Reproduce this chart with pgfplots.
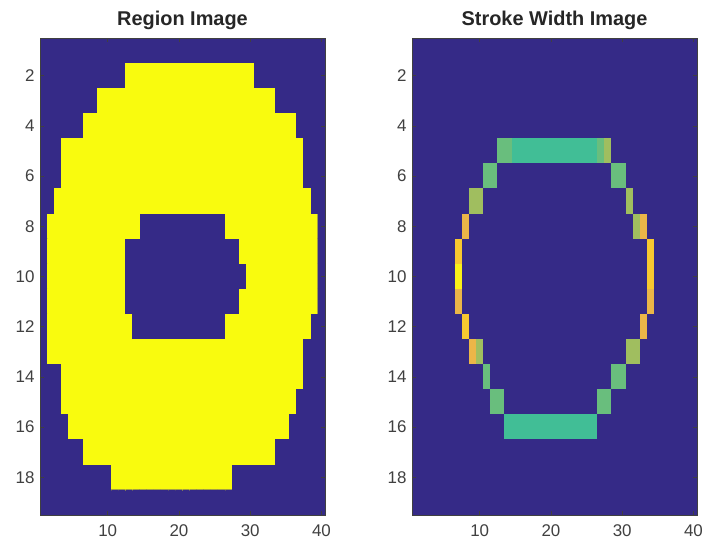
\documentclass[border=0pt]{standalone}
\usepackage{fontspec}
\setmainfont{Liberation Sans}
\usepackage{pgfplots}
\pgfplotsset{compat=1.18}
\definecolor{tickgray}{RGB}{64,64,64}
\definecolor{bgblue}{RGB}{53,42,135}
\pgfplotsset{
  mat/.style={
    scale only axis, width=285bp, height=477bp,
    xmin=0.5, xmax=40.5, ymin=0.5, ymax=19.5, y dir=reverse,
    enlargelimits=false, axis on top,
    axis background/.style={fill=bgblue},
    xtick={10,20,30,40}, ytick={2,4,...,18},
    tick align=inside, major tick length=4bp,
    tick style={color=tickgray, line width=0.5bp},
    axis line style={color=tickgray, line width=0.5bp},
    ticklabel style={font=\fontsize{17}{17}\selectfont, text=tickgray},
    /pgf/number format/assume math mode=true,
    title style={font=\fontsize{20}{20}\selectfont\bfseries, at={(0.5,1)}, anchor=south, yshift=-1bp, text=black!85},
    xticklabel style={yshift=-6bp},
    yticklabel style={xshift=-2bp},
  },
  img/.style={matrix plot*, mesh/cols=40, mesh/rows=19, point meta=explicit},
}
\begin{document}
\begin{tikzpicture}
\path[use as bounding box] (0,0) rectangle (712bp,543bp);
\begin{axis}[mat, at={(40bp,28bp)}, anchor=south west, title={Region Image},
  colormap={regionmap}{rgb255=(53,42,135) rgb255=(249,251,14)},
  point meta min=0, point meta max=1]
\addplot[img] table[header=false, row sep=\\, x expr={mod(\coordindex+0.5,40)+0.5}, y expr={floor((\coordindex+0.5)/40)+1}, meta index=0] {
0\\0\\0\\0\\0\\0\\0\\0\\0\\0\\ 0\\0\\0\\0\\0\\0\\0\\0\\0\\0\\ 0\\0\\0\\0\\0\\0\\0\\0\\0\\0\\ 0\\0\\0\\0\\0\\0\\0\\0\\0\\0\\
0\\0\\0\\0\\0\\0\\0\\0\\0\\0\\ 0\\0\\1\\1\\1\\1\\1\\1\\1\\1\\ 1\\1\\1\\1\\1\\1\\1\\1\\1\\1\\ 0\\0\\0\\0\\0\\0\\0\\0\\0\\0\\
0\\0\\0\\0\\0\\0\\0\\0\\1\\1\\ 1\\1\\1\\1\\1\\1\\1\\1\\1\\1\\ 1\\1\\1\\1\\1\\1\\1\\1\\1\\1\\ 1\\1\\1\\0\\0\\0\\0\\0\\0\\0\\
0\\0\\0\\0\\0\\0\\1\\1\\1\\1\\ 1\\1\\1\\1\\1\\1\\1\\1\\1\\1\\ 1\\1\\1\\1\\1\\1\\1\\1\\1\\1\\ 1\\1\\1\\1\\1\\1\\0\\0\\0\\0\\
0\\0\\0\\1\\1\\1\\1\\1\\1\\1\\ 1\\1\\1\\1\\1\\1\\1\\1\\1\\1\\ 1\\1\\1\\1\\1\\1\\1\\1\\1\\1\\ 1\\1\\1\\1\\1\\1\\1\\0\\0\\0\\
0\\0\\0\\1\\1\\1\\1\\1\\1\\1\\ 1\\1\\1\\1\\1\\1\\1\\1\\1\\1\\ 1\\1\\1\\1\\1\\1\\1\\1\\1\\1\\ 1\\1\\1\\1\\1\\1\\1\\0\\0\\0\\
0\\0\\1\\1\\1\\1\\1\\1\\1\\1\\ 1\\1\\1\\1\\1\\1\\1\\1\\1\\1\\ 1\\1\\1\\1\\1\\1\\1\\1\\1\\1\\ 1\\1\\1\\1\\1\\1\\1\\1\\0\\0\\
0\\1\\1\\1\\1\\1\\1\\1\\1\\1\\ 1\\1\\1\\1\\0\\0\\0\\0\\0\\0\\ 0\\0\\0\\0\\0\\0\\1\\1\\1\\1\\ 1\\1\\1\\1\\1\\1\\1\\1\\1\\0\\
0\\1\\1\\1\\1\\1\\1\\1\\1\\1\\ 1\\1\\0\\0\\0\\0\\0\\0\\0\\0\\ 0\\0\\0\\0\\0\\0\\0\\0\\1\\1\\ 1\\1\\1\\1\\1\\1\\1\\1\\1\\0\\
0\\1\\1\\1\\1\\1\\1\\1\\1\\1\\ 1\\1\\0\\0\\0\\0\\0\\0\\0\\0\\ 0\\0\\0\\0\\0\\0\\0\\0\\0\\1\\ 1\\1\\1\\1\\1\\1\\1\\1\\1\\0\\
0\\1\\1\\1\\1\\1\\1\\1\\1\\1\\ 1\\1\\0\\0\\0\\0\\0\\0\\0\\0\\ 0\\0\\0\\0\\0\\0\\0\\0\\1\\1\\ 1\\1\\1\\1\\1\\1\\1\\1\\1\\0\\
0\\1\\1\\1\\1\\1\\1\\1\\1\\1\\ 1\\1\\1\\0\\0\\0\\0\\0\\0\\0\\ 0\\0\\0\\0\\0\\0\\1\\1\\1\\1\\ 1\\1\\1\\1\\1\\1\\1\\1\\0\\0\\
0\\1\\1\\1\\1\\1\\1\\1\\1\\1\\ 1\\1\\1\\1\\1\\1\\1\\1\\1\\1\\ 1\\1\\1\\1\\1\\1\\1\\1\\1\\1\\ 1\\1\\1\\1\\1\\1\\1\\0\\0\\0\\
0\\0\\0\\1\\1\\1\\1\\1\\1\\1\\ 1\\1\\1\\1\\1\\1\\1\\1\\1\\1\\ 1\\1\\1\\1\\1\\1\\1\\1\\1\\1\\ 1\\1\\1\\1\\1\\1\\1\\0\\0\\0\\
0\\0\\0\\1\\1\\1\\1\\1\\1\\1\\ 1\\1\\1\\1\\1\\1\\1\\1\\1\\1\\ 1\\1\\1\\1\\1\\1\\1\\1\\1\\1\\ 1\\1\\1\\1\\1\\1\\0\\0\\0\\0\\
0\\0\\0\\0\\1\\1\\1\\1\\1\\1\\ 1\\1\\1\\1\\1\\1\\1\\1\\1\\1\\ 1\\1\\1\\1\\1\\1\\1\\1\\1\\1\\ 1\\1\\1\\1\\1\\0\\0\\0\\0\\0\\
0\\0\\0\\0\\0\\0\\1\\1\\1\\1\\ 1\\1\\1\\1\\1\\1\\1\\1\\1\\1\\ 1\\1\\1\\1\\1\\1\\1\\1\\1\\1\\ 1\\1\\1\\0\\0\\0\\0\\0\\0\\0\\
0\\0\\0\\0\\0\\0\\0\\0\\0\\0\\ 1\\1\\1\\1\\1\\1\\1\\1\\1\\1\\ 1\\1\\1\\1\\1\\1\\1\\0\\0\\0\\ 0\\0\\0\\0\\0\\0\\0\\0\\0\\0\\
0\\0\\0\\0\\0\\0\\0\\0\\0\\0\\ 0\\0\\0\\0\\0\\0\\0\\0\\0\\0\\ 0\\0\\0\\0\\0\\0\\0\\0\\0\\0\\ 0\\0\\0\\0\\0\\0\\0\\0\\0\\0\\
};
\end{axis}
\begin{axis}[mat, at={(412bp,28bp)}, anchor=south west, title={Stroke Width Image},
  colormap={swmap}{rgb255=(53,42,135) rgb255=(65,190,150) rgb255=(105,190,125) rgb255=(160,190,95) rgb255=(235,182,72) rgb255=(248,200,48) rgb255=(250,240,25)},
  point meta min=0, point meta max=6]
\addplot[img] table[header=false, row sep=\\, x expr={mod(\coordindex+0.5,40)+0.5}, y expr={floor((\coordindex+0.5)/40)+1}, meta index=0] {
0\\0\\0\\0\\0\\0\\0\\0\\0\\0\\ 0\\0\\0\\0\\0\\0\\0\\0\\0\\0\\ 0\\0\\0\\0\\0\\0\\0\\0\\0\\0\\ 0\\0\\0\\0\\0\\0\\0\\0\\0\\0\\
0\\0\\0\\0\\0\\0\\0\\0\\0\\0\\ 0\\0\\0\\0\\0\\0\\0\\0\\0\\0\\ 0\\0\\0\\0\\0\\0\\0\\0\\0\\0\\ 0\\0\\0\\0\\0\\0\\0\\0\\0\\0\\
0\\0\\0\\0\\0\\0\\0\\0\\0\\0\\ 0\\0\\0\\0\\0\\0\\0\\0\\0\\0\\ 0\\0\\0\\0\\0\\0\\0\\0\\0\\0\\ 0\\0\\0\\0\\0\\0\\0\\0\\0\\0\\
0\\0\\0\\0\\0\\0\\0\\0\\0\\0\\ 0\\0\\0\\0\\0\\0\\0\\0\\0\\0\\ 0\\0\\0\\0\\0\\0\\0\\0\\0\\0\\ 0\\0\\0\\0\\0\\0\\0\\0\\0\\0\\
0\\0\\0\\0\\0\\0\\0\\0\\0\\0\\ 0\\0\\2\\2\\1\\1\\1\\1\\1\\1\\ 1\\1\\1\\1\\1\\1\\2\\3\\0\\0\\ 0\\0\\0\\0\\0\\0\\0\\0\\0\\0\\
0\\0\\0\\0\\0\\0\\0\\0\\0\\0\\ 2\\2\\0\\0\\0\\0\\0\\0\\0\\0\\ 0\\0\\0\\0\\0\\0\\0\\0\\2\\2\\ 0\\0\\0\\0\\0\\0\\0\\0\\0\\0\\
0\\0\\0\\0\\0\\0\\0\\0\\3\\3\\ 0\\0\\0\\0\\0\\0\\0\\0\\0\\0\\ 0\\0\\0\\0\\0\\0\\0\\0\\0\\0\\ 3\\0\\0\\0\\0\\0\\0\\0\\0\\0\\
0\\0\\0\\0\\0\\0\\0\\4\\0\\0\\ 0\\0\\0\\0\\0\\0\\0\\0\\0\\0\\ 0\\0\\0\\0\\0\\0\\0\\0\\0\\0\\ 0\\3\\4\\0\\0\\0\\0\\0\\0\\0\\
0\\0\\0\\0\\0\\0\\5\\0\\0\\0\\ 0\\0\\0\\0\\0\\0\\0\\0\\0\\0\\ 0\\0\\0\\0\\0\\0\\0\\0\\0\\0\\ 0\\0\\0\\5\\0\\0\\0\\0\\0\\0\\
0\\0\\0\\0\\0\\0\\6\\0\\0\\0\\ 0\\0\\0\\0\\0\\0\\0\\0\\0\\0\\ 0\\0\\0\\0\\0\\0\\0\\0\\0\\0\\ 0\\0\\0\\5\\0\\0\\0\\0\\0\\0\\
0\\0\\0\\0\\0\\0\\4\\0\\0\\0\\ 0\\0\\0\\0\\0\\0\\0\\0\\0\\0\\ 0\\0\\0\\0\\0\\0\\0\\0\\0\\0\\ 0\\0\\0\\4\\0\\0\\0\\0\\0\\0\\
0\\0\\0\\0\\0\\0\\0\\5\\0\\0\\ 0\\0\\0\\0\\0\\0\\0\\0\\0\\0\\ 0\\0\\0\\0\\0\\0\\0\\0\\0\\0\\ 0\\0\\4\\0\\0\\0\\0\\0\\0\\0\\
0\\0\\0\\0\\0\\0\\0\\0\\4\\3\\ 0\\0\\0\\0\\0\\0\\0\\0\\0\\0\\ 0\\0\\0\\0\\0\\0\\0\\0\\0\\0\\ 3\\3\\0\\0\\0\\0\\0\\0\\0\\0\\
0\\0\\0\\0\\0\\0\\0\\0\\0\\0\\ 2\\0\\0\\0\\0\\0\\0\\0\\0\\0\\ 0\\0\\0\\0\\0\\0\\0\\0\\2\\2\\ 0\\0\\0\\0\\0\\0\\0\\0\\0\\0\\
0\\0\\0\\0\\0\\0\\0\\0\\0\\0\\ 0\\2\\2\\0\\0\\0\\0\\0\\0\\0\\ 0\\0\\0\\0\\0\\0\\2\\2\\0\\0\\ 0\\0\\0\\0\\0\\0\\0\\0\\0\\0\\
0\\0\\0\\0\\0\\0\\0\\0\\0\\0\\ 0\\0\\0\\1\\1\\1\\1\\1\\1\\1\\ 1\\1\\1\\1\\1\\1\\0\\0\\0\\0\\ 0\\0\\0\\0\\0\\0\\0\\0\\0\\0\\
0\\0\\0\\0\\0\\0\\0\\0\\0\\0\\ 0\\0\\0\\0\\0\\0\\0\\0\\0\\0\\ 0\\0\\0\\0\\0\\0\\0\\0\\0\\0\\ 0\\0\\0\\0\\0\\0\\0\\0\\0\\0\\
0\\0\\0\\0\\0\\0\\0\\0\\0\\0\\ 0\\0\\0\\0\\0\\0\\0\\0\\0\\0\\ 0\\0\\0\\0\\0\\0\\0\\0\\0\\0\\ 0\\0\\0\\0\\0\\0\\0\\0\\0\\0\\
0\\0\\0\\0\\0\\0\\0\\0\\0\\0\\ 0\\0\\0\\0\\0\\0\\0\\0\\0\\0\\ 0\\0\\0\\0\\0\\0\\0\\0\\0\\0\\ 0\\0\\0\\0\\0\\0\\0\\0\\0\\0\\
};
\end{axis}
\end{tikzpicture}
\end{document}
